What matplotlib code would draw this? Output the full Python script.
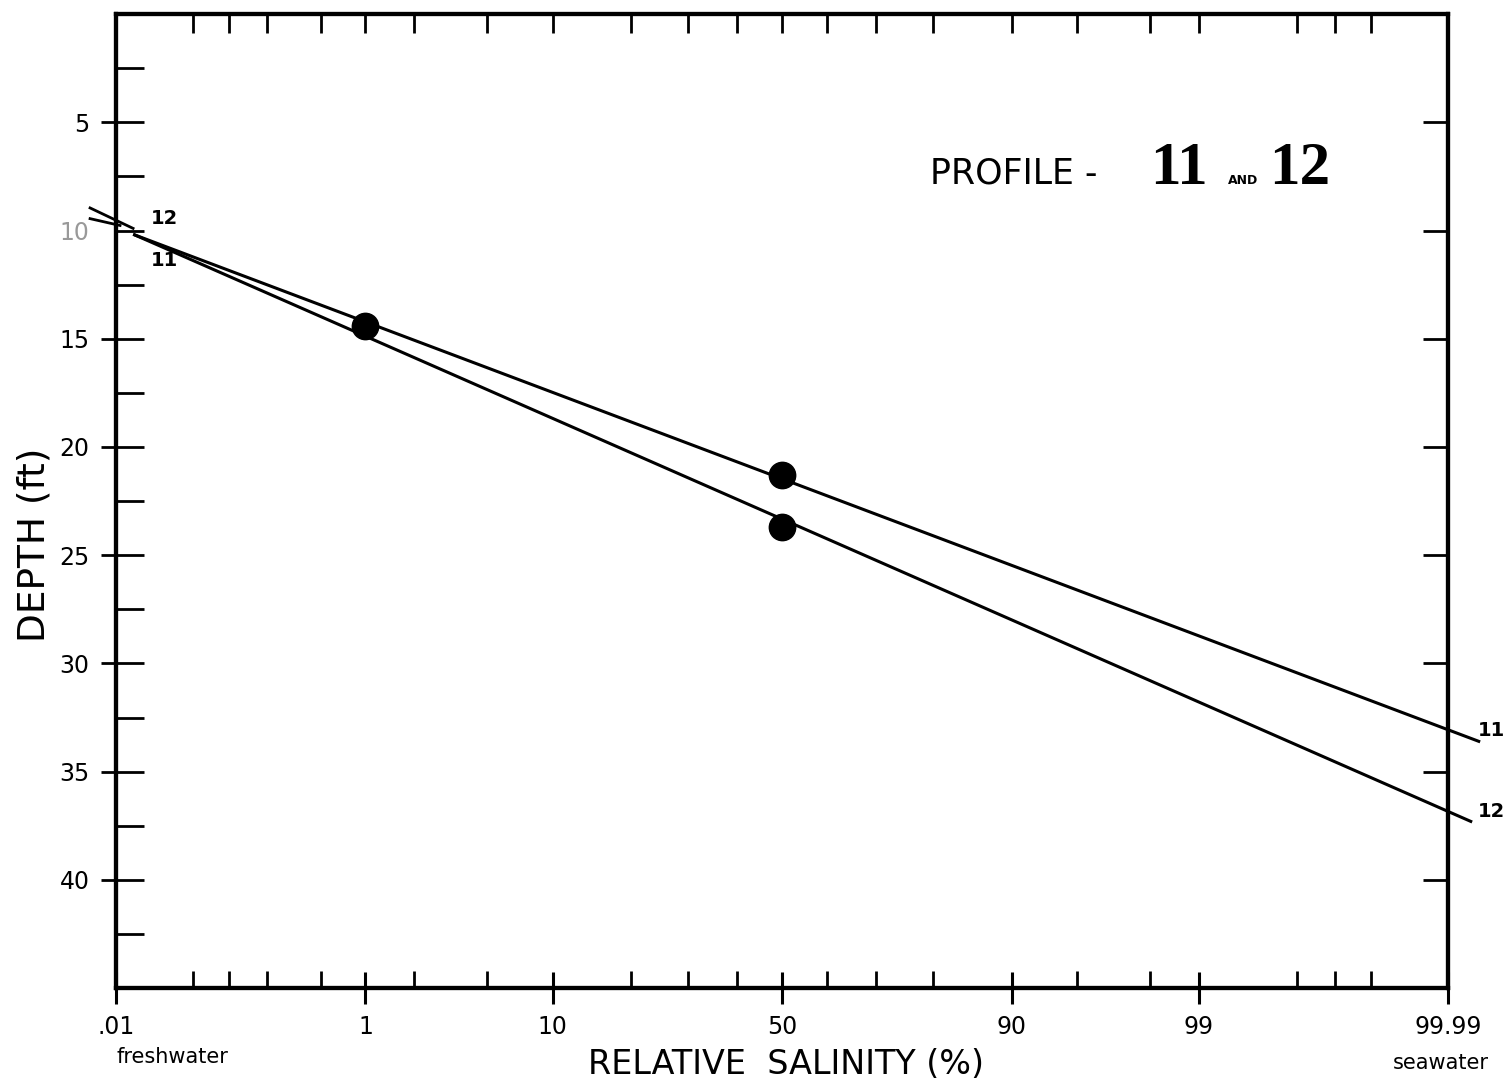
import numpy as np
import matplotlib
matplotlib.use("Agg")
import matplotlib.pyplot as plt
from matplotlib.ticker import FixedLocator, FixedFormatter, NullFormatter
from statistics import NormalDist

# x axis: relative salinity (%), normal probability scale
x_major = [0.01, 1, 10, 50, 90, 99, 99.99]
x_major_labels = [".01", "1", "10", "50", "90", "99", "99.99"]
x_minor = [0.05, 0.1, 0.2, 0.5, 2, 5, 20, 30, 40, 60, 70, 80, 95, 98,
           99.8, 99.9, 99.95]

# y axis: depth (ft)
y_major = [5, 10, 15, 20, 25, 30, 35, 40]
y_minor = [2.5, 7.5, 12.5, 17.5, 22.5, 27.5, 32.5, 37.5, 42.5]

# measured points
pt_salinity = [1, 50, 50]
pt_depth = [14.4, 21.3, 23.7]

# profile lines (end points)
p11_salinity = [0.015, 99.995]
p11_depth = [10.2, 33.6]
p12_salinity = [0.015, 99.994]
p12_depth = [10.2, 37.3]

_nd = NormalDist()
_ppf = np.vectorize(lambda v: _nd.inv_cdf(v), otypes=[float])
_cdf = np.vectorize(lambda v: _nd.cdf(v), otypes=[float])


def to_z(p):
    p = np.asarray(p, dtype=float) / 100.0
    ok = np.isfinite(p)
    q = np.clip(np.where(ok, p, 0.5), 1e-12, 1 - 1e-12)
    return np.where(ok, _ppf(q), np.nan)


def from_z(z):
    z = np.asarray(z, dtype=float)
    ok = np.isfinite(z)
    return np.where(ok, _cdf(np.where(ok, z, 0.0)) * 100.0, np.nan)


fig = plt.figure(figsize=(15.11, 10.86), dpi=100)
ax = fig.add_axes([0.0768, 0.0902, 0.8815, 0.8968])

ax.set_xscale("function", functions=(to_z, from_z))
ax.set_xlim(0.01, 99.99)
ax.set_ylim(45, 0)

# -------- lines and points --------
ax.plot(p11_salinity, p11_depth, color="black", lw=2.2, clip_on=False)
ax.plot(p12_salinity, p12_depth, color="black", lw=2.2, clip_on=False)
ax.plot(pt_salinity, pt_depth, "o", color="black", ms=19, zorder=5)

# -------- ticks --------
ax.xaxis.set_major_locator(FixedLocator(x_major))
ax.xaxis.set_major_formatter(FixedFormatter(x_major_labels))
ax.xaxis.set_minor_locator(FixedLocator(x_minor))
ax.xaxis.set_minor_formatter(NullFormatter())
ax.tick_params(axis="x", which="major", direction="inout", length=23,
               width=2.2, labelsize=17, pad=8)
ax.tick_params(axis="x", which="minor", direction="in", length=12, width=2)

ax.yaxis.set_major_locator(FixedLocator(y_major))
ax.yaxis.set_minor_locator(FixedLocator(y_minor))
ax.tick_params(axis="y", which="both", direction="in", length=20, width=2,
               labelsize=17, pad=19, right=False)
ax.get_yticklabels()[1].set_color("0.6")

for s in ax.spines.values():
    s.set_linewidth(3)

# top ticks
ax_top = ax.twiny()
ax_top.set_xscale("function", functions=(to_z, from_z))
ax_top.set_xlim(ax.get_xlim())
ax_top.xaxis.set_major_locator(FixedLocator(x_major + x_minor))
ax_top.xaxis.set_major_formatter(NullFormatter())
ax_top.tick_params(axis="x", which="major", direction="in", length=14, width=2)
for s in ax_top.spines.values():
    s.set_linewidth(3)

# right ticks
ax_r = ax.secondary_yaxis("right")
ax_r.yaxis.set_major_locator(FixedLocator(y_major))
ax_r.yaxis.set_major_formatter(NullFormatter())
ax_r.tick_params(axis="y", direction="in", length=18, width=2)

# short outward marks on the labelled depths
ax_l = ax.secondary_yaxis("left")
ax_l.yaxis.set_major_locator(FixedLocator([v for v in y_major if v != 10]))
ax_l.yaxis.set_major_formatter(NullFormatter())
ax_l.tick_params(axis="y", direction="out", length=11, width=2)

# axis break at 10 ft
ax.plot([-0.0195, 0.0128], [0.801, 0.780], color="black", lw=2,
        transform=ax.transAxes, clip_on=False, zorder=6)
ax.plot([-0.0195, 0.003], [0.790, 0.783], color="black", lw=2,
        transform=ax.transAxes, clip_on=False, zorder=6)

# -------- labels --------
ax.set_xlabel("RELATIVE  SALINITY (%)", fontsize=24, va="top")
ax.xaxis.set_label_coords(0.503, -0.062)
ax.set_ylabel("DEPTH (ft)", fontsize=27)
ax.yaxis.set_label_coords(-0.048, 0.455)

ax.text(0.0, -0.071, "freshwater", transform=ax.transAxes, fontsize=15,
        ha="left", va="center")
ax.text(1.031, -0.077, "seawater", transform=ax.transAxes, fontsize=15,
        ha="right", va="center")

ax.text(0.611, 0.826, "PROFILE -", transform=ax.transAxes, fontsize=25,
        ha="left", va="baseline")
ax.text(0.776, 0.826, "11", transform=ax.transAxes, fontsize=44,
        family="Liberation Serif", weight="bold", ha="left", va="baseline")
ax.text(0.835, 0.826, "AND", transform=ax.transAxes, fontsize=9,
        weight="bold", ha="left", va="baseline")
ax.text(0.866, 0.826, "12", transform=ax.transAxes, fontsize=44,
        family="Liberation Serif", weight="bold", ha="left", va="baseline")

# line labels
ax.text(0.026, 0.79, "12", transform=ax.transAxes, fontsize=14,
        weight="bold", ha="left", va="center")
ax.text(0.026, 0.747, "11", transform=ax.transAxes, fontsize=14,
        weight="bold", ha="left", va="center")
ax.text(1.0425, 0.264, "11", transform=ax.transAxes, fontsize=14,
        weight="bold", ha="right", va="center")
ax.text(1.0425, 0.181, "12", transform=ax.transAxes, fontsize=14,
        weight="bold", ha="right", va="center")

fig.savefig("out.png", dpi=100)
